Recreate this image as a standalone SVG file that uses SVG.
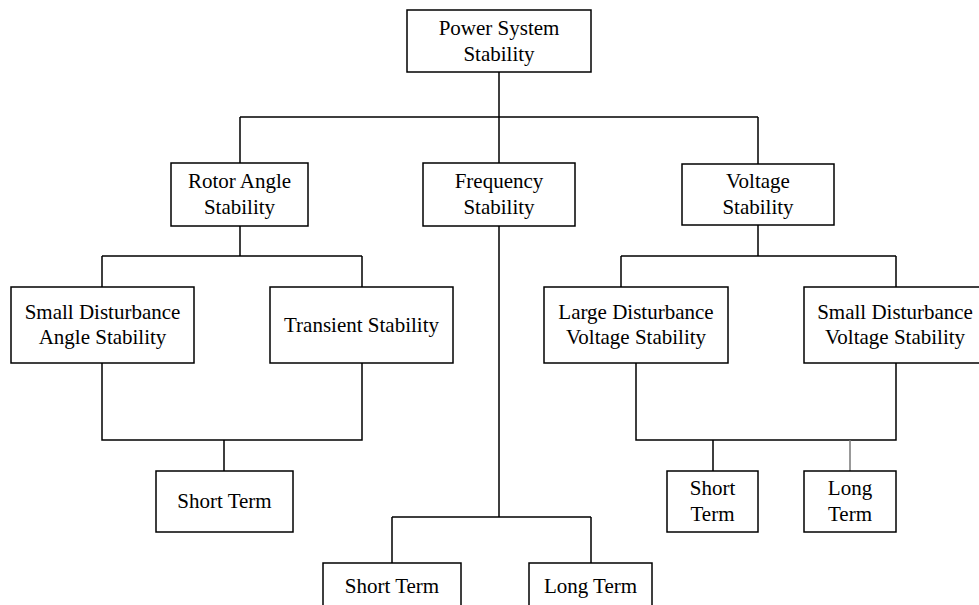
<svg xmlns="http://www.w3.org/2000/svg" width="979" height="605" viewBox="0 0 979 605">
<style>
.box{fill:#fff;stroke:#000;stroke-width:1.5}
.t{font-family:"Liberation Serif","Times New Roman",serif;font-size:21px;fill:#000;text-anchor:middle}
.c{fill:none;stroke:#000;stroke-width:1.5}
.g{fill:none;stroke:#777;stroke-width:1.5}
</style>
<rect width="979" height="605" fill="#fff"/>
<g id="connectors">
<path class="c" d="M499 72V117M240 117H758M240 117V163M499 117V163M758 117V164"/>
<path class="c" d="M240 226V256M102 256H362M102 256V287M362 256V287"/>
<path class="c" d="M102 363V440H362V363M224 440V471"/>
<path class="c" d="M499 226V517M392 517H591M392 517V563M591 517V563"/>
<path class="c" d="M758 225V256M621 256H896M621 256V287M896 256V287"/>
<path class="c" d="M636 363V440H896V363M713 440V471"/>
<path class="g" d="M850 440V471"/>
</g>
<g id="power-system-stability"><rect class="box" x="407" y="10" width="184" height="62"/><text class="t" x="499" y="35">Power System</text><text class="t" x="499" y="61">Stability</text></g>
<g id="rotor-angle-stability"><rect class="box" x="171" y="163" width="137" height="63"/><text class="t" x="239.5" y="188">Rotor Angle</text><text class="t" x="239.5" y="214">Stability</text></g>
<g id="frequency-stability"><rect class="box" x="423" y="163" width="152" height="63"/><text class="t" x="499" y="188">Frequency</text><text class="t" x="499" y="214">Stability</text></g>
<g id="voltage-stability"><rect class="box" x="682" y="164" width="152" height="61"/><text class="t" x="758" y="188">Voltage</text><text class="t" x="758" y="214">Stability</text></g>
<g id="small-disturbance-angle"><rect class="box" x="11" y="287" width="183" height="76"/><text class="t" x="102.5" y="319">Small Disturbance</text><text class="t" x="102.5" y="344">Angle Stability</text></g>
<g id="transient-stability"><rect class="box" x="270" y="287" width="183" height="76"/><text class="t" x="361.5" y="332">Transient Stability</text></g>
<g id="large-disturbance-voltage"><rect class="box" x="544" y="287" width="184" height="76"/><text class="t" x="636" y="319">Large Disturbance</text><text class="t" x="636" y="344">Voltage Stability</text></g>
<g id="small-disturbance-voltage"><rect class="box" x="804" y="287" width="184" height="76"/><text class="t" x="895" y="319">Small Disturbance</text><text class="t" x="895" y="344">Voltage Stability</text></g>
<g id="angle-short-term"><rect class="box" x="156" y="471" width="137" height="61"/><text class="t" x="224.5" y="508">Short Term</text></g>
<g id="voltage-short-term"><rect class="box" x="667" y="471" width="91" height="61"/><text class="t" x="712.5" y="495">Short</text><text class="t" x="712.5" y="521">Term</text></g>
<g id="voltage-long-term"><rect class="box" x="804" y="471" width="92" height="61"/><text class="t" x="850" y="495">Long</text><text class="t" x="850" y="521">Term</text></g>
<g id="frequency-short-term"><rect class="box" x="323" y="563" width="138" height="62"/><text class="t" x="392" y="593">Short Term</text></g>
<g id="frequency-long-term"><rect class="box" x="529" y="563" width="123" height="62"/><text class="t" x="590.5" y="593">Long Term</text></g>
</svg>
